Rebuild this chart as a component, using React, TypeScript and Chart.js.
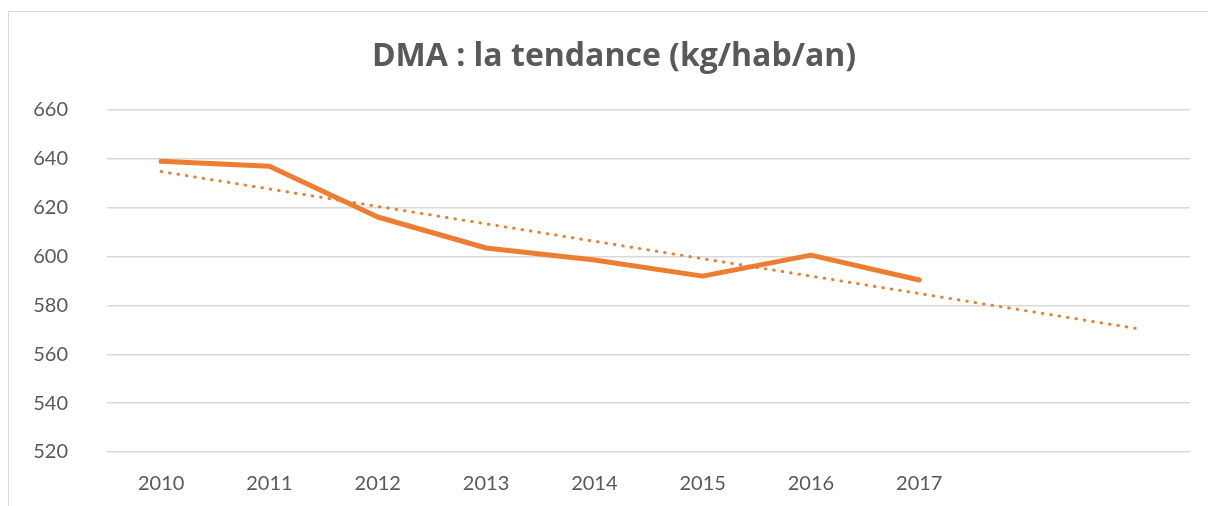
import React, { useEffect, useRef } from "react";
import { Chart, registerables } from "chart.js";

Chart.register(...registerables);

const categories = ["2010", "2011", "2012", "2013", "2014", "2015", "2016", "2017", "", ""];
const dmaValues = [639, 637, 616.2, 603.5, 598.6, 592, 600.6, 590.4];
const trendStart = 634.8;
const trendEnd = 570.6;
const trendValues: (number | null)[] = [trendStart, null, null, null, null, null, null, null, null, trendEnd];
const yMin = 520;
const yMax = 660;
const yStep = 20;
const titleText = "DMA : la tendance (kg/hab/an)";

const ORANGE = "#ED7D31";
const TEXT = "#595959";
const GRID = "#d9d9d9";
const FONT = "Lato, 'Open Sans', sans-serif";
const TITLE_FONT = "'Open Sans', Lato, sans-serif";

export default function App() {
  const ref = useRef<HTMLCanvasElement>(null);
  useEffect(() => {
    if (!ref.current) return;
    const chart = new Chart(ref.current, {
      type: "line",
      data: {
        labels: categories,
        datasets: [
          {
            label: "DMA",
            data: dmaValues,
            borderColor: ORANGE,
            backgroundColor: ORANGE,
            borderWidth: 5,
            pointRadius: 0,
            tension: 0,
            borderJoinStyle: "round",
            borderCapStyle: "round",
          },
          {
            label: "Tendance",
            data: trendValues,
            borderColor: ORANGE,
            backgroundColor: ORANGE,
            borderWidth: 3,
            borderDash: [0.5, 8],
            borderCapStyle: "round",
            pointRadius: 0,
            spanGaps: true,
            tension: 0,
          },
        ],
      },
      options: {
        animation: false,
        responsive: false,
        devicePixelRatio: 1,
        layout: { padding: { left: 0, right: 0, top: 0, bottom: 0 } },
        plugins: {
          legend: { display: false },
          tooltip: { enabled: false },
          title: {
            display: true,
            text: titleText,
            color: TEXT,
            font: { family: TITLE_FONT, size: 32, weight: "bold", lineHeight: 1.2 },
            padding: { top: 29.8, bottom: 33.8 },
          },
        },
        scales: {
          x: {
            offset: true,
            grid: { display: false },
            border: { display: false },
            ticks: {
              color: TEXT,
              font: { family: FONT, size: 20 },
              padding: 12,
              maxRotation: 0,
              autoSkip: false,
            },
            afterFit: (scale: any) => {
              scale.height = 54;
            },
          },
          y: {
            min: yMin,
            max: yMax,
            grid: { color: GRID, lineWidth: 1.5, drawTicks: false },
            border: { display: false },
            ticks: {
              stepSize: yStep,
              color: TEXT,
              font: { family: FONT, size: 20 },
              padding: 39,
            },
            afterFit: (scale: any) => {
              scale.width = 99;
            },
          },
          yRight: {
            position: "right",
            min: yMin,
            max: yMax,
            grid: { display: false, drawTicks: false },
            border: { display: false },
            ticks: { display: false },
            afterFit: (scale: any) => {
              scale.width = 30;
            },
          },
        },
      },
    });
    return () => chart.destroy();
  }, []);

  return (
    <div style={{ position: "fixed", top: 0, left: 0, width: 1208, height: 506, overflow: "hidden", background: "#fff" }}>
      <div
        style={{
          position: "absolute",
          top: 11,
          left: 8,
          width: 1200,
          height: 495,
          borderTop: `1px solid ${GRID}`,
          borderLeft: `1px solid ${GRID}`,
          boxSizing: "border-box",
        }}
      />
      <canvas
        ref={ref}
        width={1212}
        height={498}
        style={{ position: "absolute", top: 8, left: 8, width: 1212, height: 498 }}
      />
    </div>
  );
}
